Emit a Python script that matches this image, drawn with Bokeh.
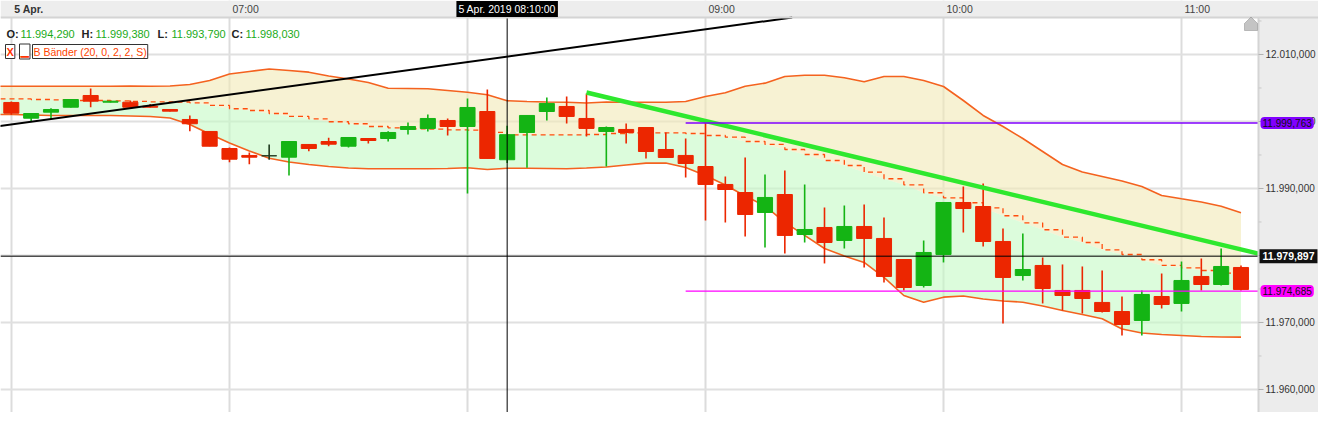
from bokeh.plotting import figure
from bokeh.models import (Range1d, FixedTicker, Label, Grid, BoxAnnotation,
                          PolyAnnotation, ColumnDataSource)
from bokeh.core.properties import value
from bokeh.embed import file_html
from bokeh.resources import INLINE

# ---------------- data ----------------
TIMES = ["06:05", "06:10", "06:15", "06:20", "06:25", "06:30", "06:35", "06:40", "06:45", "06:50", "06:55",
         "07:00", "07:05", "07:10", "07:15", "07:20", "07:25", "07:30", "07:35", "07:40", "07:45", "07:50", "07:55",
         "08:00", "08:05", "08:10", "08:15", "08:20", "08:25", "08:30", "08:35", "08:40", "08:45", "08:50", "08:55",
         "09:00", "09:05", "09:10", "09:15", "09:20", "09:25", "09:30", "09:35", "09:40", "09:45", "09:50", "09:55",
         "10:00", "10:05", "10:10", "10:15", "10:20", "10:25", "10:30", "10:35", "10:40", "10:45", "10:50", "10:55",
         "11:00", "11:05", "11:10", "11:15"]

OPEN = [12002.84, 12000.49, 12001.39, 12002.13, 12003.88, 12002.88, 12002.88, 12002.28, 12001.79, 12000.30,
        11998.51, 11995.97, 11994.93, 11994.88, 11994.67, 11996.57, 11997.01, 11996.31, 11997.46, 11997.46,
        11998.81, 11998.96, 12000.15, 11999.25, 12001.49, 11994.29, 11998.36, 12001.49, 12002.24, 12000.45,
        11998.51, 11998.81, 11999.10, 11995.82, 11994.93, 11993.28, 11990.60, 11989.40, 11986.42, 11989.10,
        11983.13, 11984.18, 11982.24, 11984.33, 11982.54, 11979.40, 11975.52, 11980.15, 11987.91, 11987.31,
        11982.09, 11977.01, 11978.51, 11974.78, 11974.78, 11972.99, 11971.64, 11970.30, 11973.88, 11972.84,
        11976.87, 11975.67, 11978.21]
HIGH = [12003.00, 12001.27, 12001.99, 12003.30, 12004.93, 12003.05, 12003.13, 12002.61, 12001.80, 12000.90,
        11998.51, 11996.12, 11995.37, 11996.57, 11997.01, 11996.57, 11997.57, 11997.61, 11997.46, 11998.55,
        11999.85, 12001.04, 12000.45, 12003.43, 12004.78, 11999.38, 12000.90, 12003.58, 12003.73, 12004.18,
        11999.25, 11999.70, 11999.10, 11998.36, 11997.46, 11999.85, 11991.79, 11994.63, 11992.09, 11992.69,
        11990.60, 11987.16, 11987.46, 11987.61, 11985.67, 11979.40, 11982.24, 11987.91, 11990.30, 11990.75,
        11984.03, 11983.28, 11979.70, 11978.66, 11978.36, 11977.76, 11973.88, 11974.78, 11977.31, 11979.10,
        11979.55, 11981.04, 11978.51]
LOW = [12001.00, 12000.00, 12000.40, 12002.10, 12002.13, 12002.85, 12002.10, 12002.10, 12001.50, 11998.55,
       11996.31, 11993.93, 11993.63, 11994.28, 11991.94, 11995.57, 11996.31, 11996.12, 11996.72, 11997.01,
       11998.06, 11998.51, 11997.91, 11989.25, 11994.48, 11993.79, 11993.09, 12000.15, 11999.70, 11997.76,
       11993.28, 11996.72, 11994.48, 11994.60, 11991.64, 11985.22, 11984.93, 11982.84, 11981.19, 11980.30,
       11981.94, 11978.81, 11981.04, 11978.21, 11975.97, 11974.78, 11975.22, 11978.96, 11983.43, 11981.34,
       11969.85, 11976.27, 11972.84, 11971.79, 11971.34, 11971.49, 11968.06, 11968.06, 11972.09, 11971.64,
       11974.78, 11975.52, 11974.78]
CLOSE = [12001.24, 12001.19, 12001.79, 12003.28, 12003.03, 12003.03, 12002.13, 12002.13, 12001.54, 11999.66,
         11996.31, 11994.37, 11994.67, 11994.88, 11997.01, 11995.97, 11996.61, 11997.61, 11997.16, 11998.36,
         11999.25, 12000.45, 11999.25, 12002.09, 11994.48, 11998.03, 12000.90, 12002.69, 12000.75, 11998.96,
         11999.10, 11998.36, 11995.52, 11994.63, 11993.73, 11990.60, 11989.85, 11986.12, 11988.66, 11982.99,
         11983.88, 11981.94, 11984.33, 11982.54, 11976.87, 11975.22, 11980.45, 11987.91, 11987.01, 11982.09,
         11976.72, 11977.91, 11975.07, 11974.03, 11973.58, 11971.64, 11969.70, 11974.18, 11972.69, 11976.27,
         11975.67, 11978.36, 11974.93]

# Bollinger bands (20, 2): one value before the first candle, then one per candle
BAND_TIMES = ["06:00"] + TIMES
BB_UPPER = [12005.27, 12005.27, 12005.27, 12005.27, 12005.27, 12005.27, 12005.27, 12005.30, 12005.27, 12005.30,
            12005.52, 12006.12, 12007.09, 12007.46, 12007.84, 12007.61, 12007.36, 12006.79, 12006.34, 12005.82,
            12004.97, 12004.93, 12004.88, 12004.63, 12004.37, 12003.99, 12003.09, 12002.99, 12002.91, 12002.88,
            12002.76, 12002.91, 12002.88, 12002.88, 12002.88, 12002.99, 12003.73, 12004.28, 12005.27, 12005.72,
            12006.72, 12006.91, 12006.91, 12006.52, 12005.93, 12006.72, 12006.72, 12006.12, 12005.22, 12003.13,
            12000.90, 11999.25, 11997.46, 11995.52, 11993.58, 11992.46, 11991.79, 11991.12, 11990.30, 11988.96,
            11988.46, 11987.99, 11987.36, 11986.37]
BB_MIDDLE = [12003.36, 12003.36, 12003.28, 12003.24, 12003.13, 12003.13, 12003.09, 12002.99, 12002.94, 12002.91,
             12002.79, 12002.39, 12001.90, 12001.64, 12001.19, 12000.75, 12000.40, 11999.96, 11999.66, 11999.25,
             11999.06, 11998.91, 11998.85, 11998.76, 11998.70, 11998.36, 11998.01, 11998.01, 11997.99, 11997.99,
             11998.06, 11998.21, 11998.31, 11998.31, 11998.31, 11998.21, 11997.91, 11997.66, 11997.01, 11996.57,
             11995.82, 11995.07, 11994.18, 11993.43, 11992.43, 11991.45, 11990.55, 11989.36, 11988.61, 11987.87,
             11987.12, 11985.93, 11984.88, 11983.84, 11982.73, 11981.94, 11980.85, 11980.15, 11979.36, 11978.51,
             11978.16, 11977.76, 11977.36, 11977.36]
BB_LOWER = [12001.04, 12001.04, 12000.97, 12000.90, 12000.90, 12000.90, 12000.90, 12000.82, 12000.75, 12000.52,
            11999.55, 11998.13, 11996.79, 11995.60, 11994.52, 11993.96, 11993.58, 11993.28, 11993.06, 11992.94,
            11992.94, 11992.94, 11992.94, 11992.99, 11993.09, 11992.84, 11993.03, 11993.03, 11992.99, 11992.94,
            11993.06, 11993.21, 11993.51, 11993.78, 11993.81, 11993.13, 11991.94, 11990.52, 11988.88, 11987.39,
            11984.93, 11982.99, 11981.04, 11979.93, 11978.96, 11976.72, 11974.03, 11973.03, 11973.78, 11973.96,
            11973.51, 11973.21, 11973.03, 11972.46, 11971.79, 11971.19, 11970.55, 11969.03, 11968.43, 11968.21,
            11968.06, 11967.91, 11967.84, 11967.81]

# drawing tools
BLACK_TREND_TIMES = ["06:00", "09:30"]
BLACK_TREND_PRICES = [11999.15, 12016.18]
GREEN_TREND_TIMES = ["08:30", "11:25"]
GREEN_TREND_PRICES = [12004.33, 11979.48]
PURPLE_LEVEL = 11999.763
PURPLE_START = "08:55"
MAGENTA_LEVEL = 11974.685
MAGENTA_START = "08:55"
CROSS_TIME = "08:10"
CROSS_PRICE = 11979.897
CROSS_LABEL = "5 Apr. 2019 08:10:00"

GRID_TIMES = ["06:05", "07:00", "08:00", "09:00", "10:00", "11:00"]
TIME_LABEL_TIMES = ["07:00", "09:00", "10:00", "11:00"]
DAY_LABEL_TIME = "06:05"
DAY_LABEL = "5 Apr."
Y_TICKS = [11960, 11970, 11980, 11990, 12000, 12010]
Y_MINOR_TICKS = [11955, 11965, 11975, 11985, 11995, 12005, 12015]
INDICATOR_NAME = "B Bänder (20, 0, 2, 2, S)"

# ---------------- layout ----------------
W, H = 1318, 412
AXIS_W, BAND_H = 60, 17
FRAME_W, FRAME_H = W - AXIS_W, H - BAND_H
PX_PER_MIN = 238 / 60.0      # one hour spans 238 px
PX_PER_PT = 6.7              # one index point spans 6.7 px
X_MIN = 362.27               # time (minutes) at the left edge of the chart
Y_MAX = 12015.52             # price at the top edge of the chart
X_MAX = X_MIN + FRAME_W / PX_PER_MIN
Y_MIN = Y_MAX - FRAME_H / PX_PER_PT
X_EXT = X_MIN + W / PX_PER_MIN
Y_EXT = Y_MAX + BAND_H / PX_PER_PT
Y_BAND_MID = (Y_MAX + Y_EXT) / 2

FONT = "Liberation Sans"
GREEN = "#14b414"
RED = "#ec2600"
DOJI = "#1f3a1f"
AXIS_BG = "#ececec"
BORDER = "#d4d4d4"


def to_min(s):
    h, m = s.split(":")
    return int(h) * 60 + int(m)


def de_fmt(v, nd=3):
    s = f"{v:,.{nd}f}"
    return s.replace(",", "X").replace(".", ",").replace("X", ".")


def interp(x, xs, ys):
    return ys[0] + (ys[1] - ys[0]) * (x - xs[0]) / (xs[1] - xs[0])


t = [to_min(s) for s in TIMES]
bt = [to_min(s) for s in BAND_TIMES]

colors = [GREEN if c > o else (RED if c < o else DOJI) for o, c in zip(OPEN, CLOSE)]
src = ColumnDataSource(dict(
    t=t, high=HIGH, low=LOW,
    top=[max(o, c) for o, c in zip(OPEN, CLOSE)],
    bottom=[min(o, c) for o, c in zip(OPEN, CLOSE)],
    color=colors,
))

p = figure(width=W, height=H,
           x_range=Range1d(X_MIN, X_EXT), y_range=Range1d(Y_MIN, Y_EXT),
           x_axis_location=None, y_axis_location=None,
           output_backend="svg", toolbar_location=None,
           min_border=0, background_fill_color="white", border_fill_color=AXIS_BG,
           outline_line_color=None)
p.center = []  # drop default grids

# grid
p.add_layout(Grid(dimension=0, ticker=FixedTicker(ticks=[to_min(s) for s in GRID_TIMES]),
                  grid_line_color="#dcdcdc", grid_line_width=2))
p.add_layout(Grid(dimension=1, ticker=FixedTicker(ticks=Y_TICKS),
                  grid_line_color="#e0e0e0", grid_line_width=2))

# axis areas (time band on top, price scale on the right)
p.add_layout(BoxAnnotation(bottom=Y_MAX, fill_color="#ededed", fill_alpha=1, line_color=None,
                           level="underlay"))
p.add_layout(BoxAnnotation(left=X_MAX, top=Y_MAX, fill_color=AXIS_BG, fill_alpha=1, line_color=None,
                           level="underlay"))

# Bollinger fills and lines
p.varea(x=bt, y1=BB_MIDDLE, y2=BB_UPPER, fill_color="#f2e9b6", fill_alpha=0.6)
p.varea(x=bt, y1=BB_LOWER, y2=BB_MIDDLE, fill_color="#c5fac5", fill_alpha=0.6)
p.line(bt, BB_UPPER, line_color="#f4621f", line_width=1.6)
p.line(bt, BB_LOWER, line_color="#f4621f", line_width=1.6)
p.step(bt, BB_MIDDLE, mode="after", line_color="#ff4d0d", line_width=1.3, line_dash="5 4")

# candles
p.segment(x0="t", y0="low", x1="t", y1="high", line_color="color", line_width=1.6, source=src)
p.vbar(x="t", width=3.8, top="top", bottom="bottom", fill_color="color", line_color="color",
       line_width=1, source=src)

# trend lines (cut at the chart edges)
bx = [to_min(s) for s in BLACK_TREND_TIMES]
bx_top = bx[0] + (Y_MAX - BLACK_TREND_PRICES[0]) * (bx[1] - bx[0]) / (BLACK_TREND_PRICES[1] - BLACK_TREND_PRICES[0])
p.line([bx[0], bx_top], [BLACK_TREND_PRICES[0], Y_MAX], line_color="black", line_width=2)
gx = [to_min(s) for s in GREEN_TREND_TIMES]
p.line([gx[0], X_MAX], [GREEN_TREND_PRICES[0], interp(X_MAX, gx, GREEN_TREND_PRICES)],
       line_color="#2ee82e", line_width=4.5)
p.segment(x0=[to_min(PURPLE_START)], x1=[X_MAX], y0=[PURPLE_LEVEL], y1=[PURPLE_LEVEL],
          line_color="#8000ff", line_width=1.6)
p.segment(x0=[to_min(MAGENTA_START)], x1=[X_MAX], y0=[MAGENTA_LEVEL], y1=[MAGENTA_LEVEL],
          line_color="#ff00ff", line_width=1.4)

# crosshair
p.segment(x0=[to_min(CROSS_TIME)], x1=[to_min(CROSS_TIME)], y0=[Y_MIN], y1=[Y_MAX],
          line_color="black", line_width=1)
p.segment(x0=[X_MIN], x1=[X_MAX], y0=[CROSS_PRICE], y1=[CROSS_PRICE], line_color="black", line_width=1)

# chart borders
p.segment(x0=[X_MIN], x1=[X_EXT], y0=[Y_MAX], y1=[Y_MAX], line_color=BORDER, line_width=2)
p.segment(x0=[X_MAX], x1=[X_MAX], y0=[Y_MIN], y1=[Y_MAX], line_color=BORDER, line_width=2)

# price scale: ticks and labels
tick_len = 5 / PX_PER_MIN
minor_len = 3 / PX_PER_MIN
p.segment(x0=[X_MAX] * len(Y_TICKS), x1=[X_MAX + tick_len] * len(Y_TICKS), y0=Y_TICKS, y1=Y_TICKS,
          line_color="#b0b0b0", line_width=1)
p.segment(x0=[X_MAX] * len(Y_MINOR_TICKS), x1=[X_MAX + minor_len] * len(Y_MINOR_TICKS),
          y0=Y_MINOR_TICKS, y1=Y_MINOR_TICKS, line_color="#c8c8c8", line_width=1)
p.text(x=[X_MAX] * len(Y_TICKS), y=Y_TICKS, text=[de_fmt(v) for v in Y_TICKS], x_offset=7,
       text_align="left", text_baseline="middle", text_font=value(FONT), text_font_size="10px",
       text_color="#333333")

# time band labels
p.text(x=[to_min(s) for s in TIME_LABEL_TIMES], y=[Y_BAND_MID] * len(TIME_LABEL_TIMES),
       text=TIME_LABEL_TIMES, x_offset=3, text_align="left", text_baseline="middle",
       text_font=value(FONT), text_font_size="10.5px", text_color="#444444")
p.text(x=[to_min(DAY_LABEL_TIME)], y=[Y_BAND_MID], text=[DAY_LABEL], x_offset=3,
       text_align="left", text_baseline="middle", text_font=value(FONT), text_font_size="10.5px",
       text_font_style="bold", text_color="#333333")

# crosshair time label
p.add_layout(Label(x=to_min(CROSS_TIME), y=Y_BAND_MID, text=CROSS_LABEL,
                   text_align="center", text_baseline="middle", text_font=FONT,
                   text_font_size="10.5px", text_color="white",
                   background_fill_color="black", padding=2))

# price tags on the scale
for lvl, bg in [(PURPLE_LEVEL, "#8000ff"), (MAGENTA_LEVEL, "#ff00ff")]:
    p.add_layout(Label(x=X_MAX, y=lvl, x_offset=2, text=de_fmt(lvl), text_align="left",
                       text_baseline="middle", text_font=FONT, text_font_size="10px",
                       text_color="#111111", background_fill_color=bg, padding=2, border_radius=4))
p.add_layout(Label(x=X_MAX, y=CROSS_PRICE, x_offset=1, text=de_fmt(CROSS_PRICE), text_align="left",
                   text_baseline="middle", text_font=FONT, text_font_size="10.5px",
                   text_font_style="bold", text_color="white", background_fill_color="#111111",
                   padding=3))

# OHLC header of the crosshair candle
ci = TIMES.index(CROSS_TIME)
hdr = [("O:", OPEN[ci], 6), ("H:", HIGH[ci], 81), ("L:", LOW[ci], 157), ("C:", CLOSE[ci], 231)]
HY = H - 33
for key, val, x0 in hdr:
    p.add_layout(Label(x=x0, y=HY, x_units="screen", y_units="screen", text=key,
                       text_font=FONT, text_font_size="11px", text_font_style="bold",
                       text_color="#222222", text_baseline="middle"))
    p.add_layout(Label(x=x0 + 14, y=HY, x_units="screen", y_units="screen", text=de_fmt(val),
                       text_font=FONT, text_font_size="11px", text_color="#1aab1a",
                       text_baseline="middle"))

LY = H - 51
p.add_layout(Label(x=5, y=LY, x_units="screen", y_units="screen", text="X", text_font=FONT,
                   text_font_size="11px", text_font_style="bold", text_color="#ff3300",
                   text_baseline="middle", border_line_color="#333333", background_fill_color="white",
                   padding=1))
p.add_layout(Label(x=19, y=LY, x_units="screen", y_units="screen", text="▁", text_font="DejaVu Sans",
                   text_font_size="11px", text_color="#ff3300",
                   text_baseline="middle", border_line_color="#333333", background_fill_color="white",
                   padding=1))
p.add_layout(Label(x=32, y=LY, x_units="screen", y_units="screen", text=INDICATOR_NAME, text_font=FONT,
                   text_font_size="10.5px", text_color="#ff4400",
                   text_baseline="middle", border_line_color="#333333", background_fill_color="white",
                   padding=1))

# small scroll icon at top right of the chart
p.add_layout(PolyAnnotation(xs=[FRAME_W - 14, FRAME_W - 1, FRAME_W - 1, FRAME_W - 7.5, FRAME_W - 14],
                            ys=[FRAME_H - 13, FRAME_H - 13, FRAME_H - 6, FRAME_H + 0.5, FRAME_H - 6],
                            xs_units="screen", ys_units="screen",
                            fill_color="#c4c4c4", fill_alpha=1, line_color="#555555", line_width=1))

open("out.html", "w").write(file_html(p, INLINE))
